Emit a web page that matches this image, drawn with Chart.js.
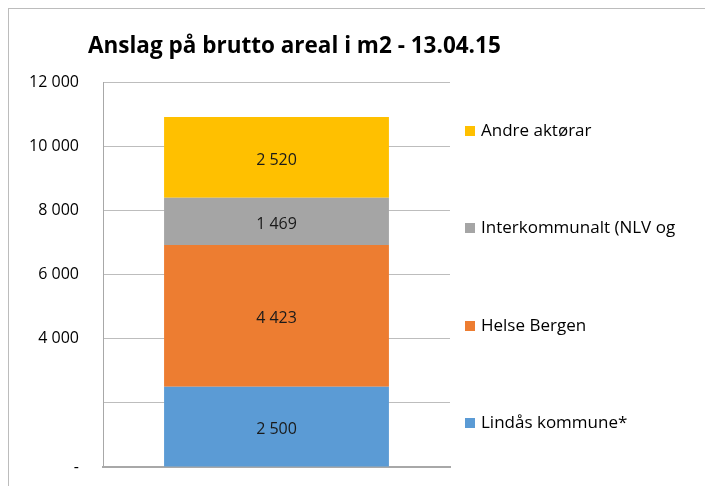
<!DOCTYPE html>
<html>
<head>
<meta charset="utf-8">
<script src="https://cdn.jsdelivr.net/npm/chart.js@4/dist/chart.umd.min.js"></script>
<style>
  html, body { margin: 0; padding: 0; background: #ffffff; overflow: hidden; }
  #frame { position: absolute; left: 8px; top: 8px; width: 900px; height: 700px; border: 1px solid #bcbcbc; box-sizing: border-box; }
  #wrap { position: absolute; left: 0; top: 0; width: 705px; height: 486px; }
</style>
</head>
<body>
<div id="frame"></div>
<div id="wrap"><canvas id="c"></canvas></div>
<script>
// ---- data ----
const categories = [''];
const seriesNames = ['Lindås kommune*', 'Helse Bergen', 'Interkommunalt (NLV og', 'Andre aktørar'];
const lindasValues = [2500];
const helseValues = [4423];
const interValues = [1469];
const andreValues = [2520];
const tickValues = [0, 2000, 4000, 6000, 8000, 10000, 12000];
const tickLabels = ['-', '', '4 000', '6 000', '8 000', '10 000', '12 000'];
const titleText = 'Anslag på brutto areal i m2 - 13.04.15';

const colors = ['#5B9BD5', '#ED7D31', '#A5A5A5', '#FFC000'];
const FONT = '"Open Sans", "DejaVu Sans", sans-serif';

function fmt(v) {
  return String(Math.round(v)).replace(/\B(?=(\d{3})+(?!\d))/g, ' ');
}

const titlePlugin = {
  id: 'customTitle',
  afterDraw(chart) {
    const ctx = chart.ctx;
    ctx.save();
    ctx.font = 'bold 22.5px ' + FONT;
    ctx.fillStyle = '#000';
    ctx.textAlign = 'left';
    ctx.textBaseline = 'middle';
    ctx.fillText(titleText, 88, 47);
    ctx.restore();
  }
};

const labelPlugin = {
  id: 'segLabels',
  afterDatasetsDraw(chart) {
    const ctx = chart.ctx;
    ctx.save();
    ctx.font = '16px ' + FONT;
    ctx.fillStyle = '#1a1a1a';
    ctx.textAlign = 'center';
    ctx.textBaseline = 'middle';
    chart.data.datasets.forEach((ds, i) => {
      const meta = chart.getDatasetMeta(i);
      meta.data.forEach((el, j) => {
        const p = el.getProps(['x', 'y', 'base'], true);
        ctx.fillText(fmt(ds.data[j]), p.x, (p.y + p.base) / 2 + 3);
      });
    });
    ctx.restore();
  }
};

const legendPlugin = {
  id: 'sideLegend',
  afterDraw(chart) {
    const ctx = chart.ctx;
    const area = chart.chartArea;
    const n = chart.data.datasets.length;
    const top = area.top + 48, bottom = area.bottom - 45;
    const step = (bottom - top) / (n - 1);
    ctx.save();
    ctx.font = '17px ' + FONT;
    ctx.textAlign = 'left';
    ctx.textBaseline = 'middle';
    for (let k = 0; k < n; k++) {
      const ds = chart.data.datasets[n - 1 - k];
      const y = top + k * step + 1;
      ctx.fillStyle = ds.backgroundColor;
      ctx.fillRect(465, Math.round(y - 5), 10, 10);
      ctx.fillStyle = '#000';
      ctx.fillText(ds.label, 481, y);
    }
    ctx.restore();
  }
};

new Chart(document.getElementById('c'), {
  type: 'bar',
  data: {
    labels: categories,
    datasets: [
      { label: seriesNames[0], data: lindasValues, backgroundColor: colors[0] },
      { label: seriesNames[1], data: helseValues, backgroundColor: colors[1] },
      { label: seriesNames[2], data: interValues, backgroundColor: colors[2] },
      { label: seriesNames[3], data: andreValues, backgroundColor: colors[3] }
    ]
  },
  options: {
    responsive: true,
    maintainAspectRatio: false,
    animation: false,
    layout: { padding: { left: 0, top: 82, right: 255, bottom: 19 } },
    datasets: { bar: { barPercentage: 0.648, categoryPercentage: 1.0 } },
    plugins: {
      legend: { display: false },
      title: { display: false },
      tooltip: { enabled: false }
    },
    scales: {
      x: {
        stacked: true,
        afterFit(scale) { scale.height = 0; },
        grid: { display: false, drawTicks: false },
        border: { display: true, color: '#a8a8a8', width: 2 },
        ticks: { display: false }
      },
      y: {
        stacked: true,
        min: 0,
        max: 12000,
        afterFit(scale) { scale.width = 103; scale.paddingTop = 0; scale.paddingBottom = 0; },
        afterBuildTicks(scale) { scale.ticks = tickValues.map(v => ({ value: v })); },
        grid: { color: '#bdbdbd', lineWidth: 1, drawTicks: false },
        border: { display: true, color: '#a8a8a8', width: 1 },
        ticks: {
          padding: 24,
          color: '#000',
          font: { family: FONT, size: 16 },
          callback(value) {
            const idx = tickValues.indexOf(value);
            return idx >= 0 ? tickLabels[idx] : '';
          }
        }
      }
    }
  },
  plugins: [titlePlugin, labelPlugin, legendPlugin]
});
</script>
</body>
</html>
